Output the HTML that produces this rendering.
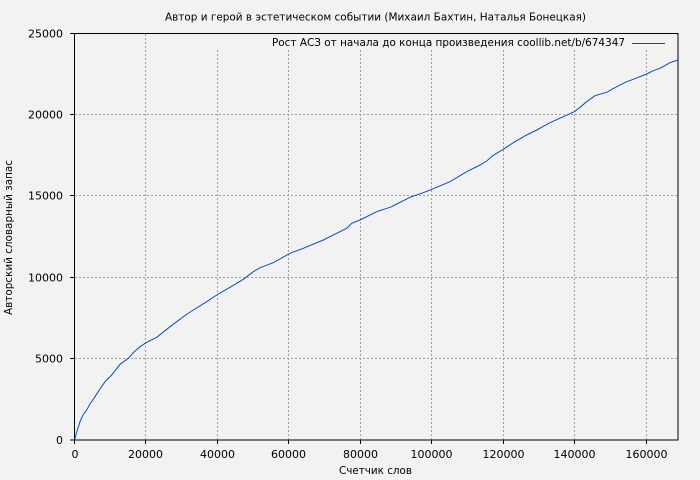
<!DOCTYPE html>
<html><head><meta charset="utf-8"><style>
html,body{margin:0;padding:0;background:#f2f2f2;}
svg{display:block;}
text{font-family:"DejaVu Sans","Liberation Sans",sans-serif;font-size:11px;fill:#000;}
</style></head><body>
<svg width="700" height="480" viewBox="0 0 700 480" xmlns="http://www.w3.org/2000/svg">
<rect width="700" height="480" fill="#f2f2f2"/>
<g stroke="#a0a0a0" stroke-width="1" stroke-dasharray="2,2" fill="none">
<line x1="75" y1="358.5" x2="678" y2="358.5"/>
<line x1="75" y1="277.5" x2="678" y2="277.5"/>
<line x1="75" y1="195.5" x2="678" y2="195.5"/>
<line x1="75" y1="114.5" x2="678" y2="114.5"/>
<line x1="145.5" y1="34" x2="145.5" y2="440"/>
<line x1="217.5" y1="50" x2="217.5" y2="440"/>
<line x1="288.5" y1="50" x2="288.5" y2="440"/>
<line x1="360.5" y1="50" x2="360.5" y2="440"/>
<line x1="431.5" y1="50" x2="431.5" y2="440"/>
<line x1="503.5" y1="50" x2="503.5" y2="440"/>
<line x1="574.5" y1="50" x2="574.5" y2="440"/>
<line x1="646.5" y1="50" x2="646.5" y2="440"/>
</g>
<g stroke="#000" stroke-width="1" fill="none">
<rect x="74.5" y="33.5" width="603.5" height="406.5"/>
<line x1="70" y1="440" x2="74.5" y2="440" />
<line x1="70" y1="358.5" x2="74.5" y2="358.5"/>
<line x1="70" y1="277.5" x2="74.5" y2="277.5"/>
<line x1="70" y1="195.5" x2="74.5" y2="195.5"/>
<line x1="70" y1="114.5" x2="74.5" y2="114.5"/>
<line x1="70" y1="33.5" x2="74.5" y2="33.5"/>
<line x1="74.5" y1="440" x2="74.5" y2="444"/>
<line x1="145.5" y1="440" x2="145.5" y2="444"/>
<line x1="217.5" y1="440" x2="217.5" y2="444"/>
<line x1="288.5" y1="440" x2="288.5" y2="444"/>
<line x1="360.5" y1="440" x2="360.5" y2="444"/>
<line x1="431.5" y1="440" x2="431.5" y2="444"/>
<line x1="503.5" y1="440" x2="503.5" y2="444"/>
<line x1="574.5" y1="440" x2="574.5" y2="444"/>
<line x1="646.5" y1="440" x2="646.5" y2="444"/>
</g>
<g text-anchor="end">
<text x="63" y="444">0</text>
<text x="63" y="362.5">5000</text>
<text x="63" y="281.5">10000</text>
<text x="63" y="199.5">15000</text>
<text x="63" y="118.5">20000</text>
<text x="63" y="37.5">25000</text>
</g>
<g text-anchor="middle">
<text x="75" y="458">0</text>
<text x="145.5" y="458">20000</text>
<text x="217.5" y="458">40000</text>
<text x="288.5" y="458">60000</text>
<text x="360.5" y="458">80000</text>
<text x="431.5" y="458">100000</text>
<text x="503.5" y="458">120000</text>
<text x="574.5" y="458">140000</text>
<text x="646.5" y="458">160000</text>
</g>
<text x="165" y="20.5" textLength="421" lengthAdjust="spacingAndGlyphs">Автор и герой в эстетическом событии (Михаил Бахтин, Наталья Бонецкая)</text>
<text x="272" y="46" textLength="353" lengthAdjust="spacingAndGlyphs">Рост АСЗ от начала до конца произведения coollib.net/b/674347</text>
<line x1="632" y1="43.5" x2="665" y2="43.5" stroke="#0b4cb4" stroke-width="1"/>
<text x="339" y="474" textLength="73" lengthAdjust="spacingAndGlyphs">Счетчик слов</text>
<text transform="translate(12,237.5) rotate(-90)" text-anchor="middle" textLength="155" lengthAdjust="spacingAndGlyphs">Авторский словарный запас</text>
<polyline fill="none" stroke="#0b4cb4" stroke-width="1" points="74.7,439.5 77,431 80,421.7 83,415 86.7,410 90,404 95,396.7 100,389 105,381.7 111.7,375 120,364.3 128.3,358.3 134,352 140,346.7 146.7,342.3 156.7,337.3 166.7,329.3 176.7,321.7 185,315.5 193.3,310 206.7,301.7 216.7,295 230,287.3 243.3,279.3 253.3,271.7 260,267.7 273.3,262.7 290,253.3 303.3,248.3 323.3,240 336.7,233.3 346.7,228.3 351.7,223.3 360,220 376.7,211.7 391.7,206.7 396.7,204 410,197.3 423.3,192.7 431.7,189.3 450,181.7 466.7,171.7 480,165 486.7,161 493.3,155.3 503.3,149.3 513.3,142.7 526.7,135 536.7,130 550,122.7 563.3,116.7 574.3,111.7 580,107.3 586.7,101.7 595,95.7 606.7,92.3 616.7,86.7 626.7,81.7 633.3,79.3 646.7,74 653.3,70.7 660,68.3 670,62.7 678,60"/>
</svg>
</body></html>
